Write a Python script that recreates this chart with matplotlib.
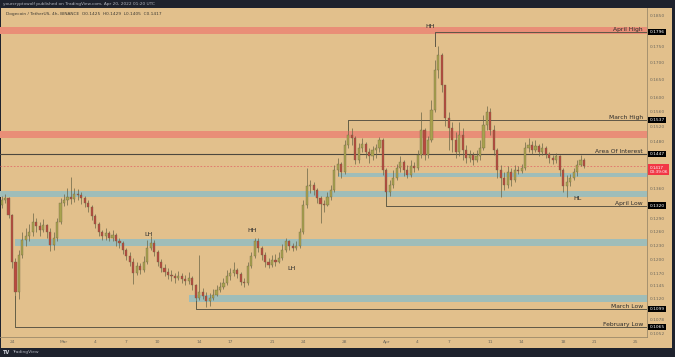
import matplotlib
matplotlib.use("Agg")
import matplotlib.pyplot as plt
import matplotlib.dates as mdates
import matplotlib.ticker as mticker
import matplotlib.transforms as mtransforms
from matplotlib.patches import Rectangle
import pandas as pd

# DOGE/USDT, 8h candles starting Feb 23 2022 (open of each = previous close)
start = "2022-02-23 00:00"
first_open = 0.1322
closes = [
    0.1334, 0.1339, 0.1299, 0.1195, 0.1133, 0.1210, 0.1243, 0.1252, 0.1261, 0.1283,
    0.1274, 0.1265, 0.1276, 0.1261, 0.1232, 0.1247, 0.1283, 0.1327, 0.1334, 0.1341,
    0.1336, 0.1348, 0.1346, 0.1339, 0.1327, 0.1317, 0.1297, 0.1278, 0.1261, 0.1252,
    0.1258, 0.1247, 0.1254, 0.1241, 0.1236, 0.1221, 0.1208, 0.1195, 0.1172, 0.1187,
    0.1178, 0.1195, 0.1225, 0.1236, 0.1217, 0.1195, 0.1183, 0.1174, 0.1168, 0.1166,
    0.1162, 0.1166, 0.1160, 0.1156, 0.1162, 0.1146, 0.1121, 0.1133, 0.1125, 0.1114,
    0.1121, 0.1127, 0.1137, 0.1143, 0.1152, 0.1166, 0.1172, 0.1178, 0.1170, 0.1154,
    0.1152, 0.1187, 0.1208, 0.1239, 0.1225, 0.1210, 0.1195, 0.1189, 0.1200, 0.1195,
    0.1204, 0.1221, 0.1239, 0.1230, 0.1225, 0.1230, 0.1261, 0.1322, 0.1368, 0.1370,
    0.1358, 0.1339, 0.1324, 0.1322, 0.1341, 0.1358, 0.1407, 0.1422, 0.1402, 0.1470,
    0.1497, 0.1489, 0.1432, 0.1463, 0.1473, 0.1452, 0.1442, 0.1457, 0.1463, 0.1483,
    0.1407, 0.1353, 0.1370, 0.1387, 0.1412, 0.1427, 0.1407, 0.1394, 0.1417, 0.1412,
    0.1445, 0.1510, 0.1445, 0.1483, 0.1564, 0.1679, 0.1724, 0.1635, 0.1542, 0.1515,
    0.1483, 0.1452, 0.1497, 0.1457, 0.1437, 0.1445, 0.1432, 0.1442, 0.1463, 0.1523,
    0.1559, 0.1510, 0.1457, 0.1407, 0.1387, 0.1370, 0.1402, 0.1382, 0.1407, 0.1404,
    0.1412, 0.1463, 0.1470, 0.1457, 0.1468, 0.1452, 0.1463, 0.1447, 0.1437, 0.1432,
    0.1442, 0.1407, 0.1368, 0.1377, 0.1387, 0.1402, 0.1419, 0.1432, 0.1417,
]
highs = [
    0.1343, 0.1348, 0.1341, 0.1301, 0.1204, 0.1221, 0.1261, 0.1269, 0.1278, 0.1303,
    0.1292, 0.1283, 0.1290, 0.1278, 0.1269, 0.1261, 0.1292, 0.1339, 0.1348, 0.1363,
    0.1389, 0.1363, 0.1360, 0.1353, 0.1343, 0.1334, 0.1322, 0.1301, 0.1283, 0.1265,
    0.1269, 0.1263, 0.1265, 0.1258, 0.1247, 0.1241, 0.1225, 0.1217, 0.1204, 0.1195,
    0.1193, 0.1208, 0.1243, 0.1252, 0.1243, 0.1221, 0.1202, 0.1191, 0.1183, 0.1178,
    0.1172, 0.1176, 0.1172, 0.1168, 0.1174, 0.1166, 0.1150, 0.1210, 0.1141, 0.1133,
    0.1131, 0.1139, 0.1148, 0.1154, 0.1162, 0.1178, 0.1183, 0.1195, 0.1183, 0.1174,
    0.1162, 0.1195, 0.1217, 0.1247, 0.1247, 0.1230, 0.1217, 0.1204, 0.1210, 0.1212,
    0.1215, 0.1234, 0.1247, 0.1243, 0.1236, 0.1239, 0.1269, 0.1334, 0.1412, 0.1382,
    0.1377, 0.1363, 0.1343, 0.1334, 0.1353, 0.1370, 0.1419, 0.1437, 0.1427, 0.1483,
    0.1537, 0.1515, 0.1494, 0.1475, 0.1489, 0.1478, 0.1463, 0.1468, 0.1473, 0.1491,
    0.1489, 0.1412, 0.1382, 0.1407, 0.1422, 0.1442, 0.1432, 0.1419, 0.1432, 0.1427,
    0.1457, 0.1559, 0.1515, 0.1494, 0.1592, 0.1709, 0.1752, 0.1731, 0.1635, 0.1559,
    0.1531, 0.1504, 0.1531, 0.1515, 0.1470, 0.1457, 0.1452, 0.1457, 0.1483, 0.1551,
    0.1575, 0.1570, 0.1523, 0.1463, 0.1419, 0.1402, 0.1417, 0.1412, 0.1419, 0.1417,
    0.1422, 0.1478, 0.1489, 0.1481, 0.1483, 0.1473, 0.1475, 0.1468, 0.1452, 0.1445,
    0.1450, 0.1445, 0.1412, 0.1394, 0.1397, 0.1412, 0.1432, 0.1445, 0.1437,
]
lows = [
    0.1315, 0.1327, 0.1292, 0.1183, 0.1065, 0.1118, 0.1204, 0.1230, 0.1239, 0.1252,
    0.1261, 0.1252, 0.1261, 0.1247, 0.1219, 0.1221, 0.1241, 0.1278, 0.1320, 0.1322,
    0.1324, 0.1329, 0.1334, 0.1324, 0.1317, 0.1306, 0.1287, 0.1269, 0.1252, 0.1243,
    0.1243, 0.1239, 0.1241, 0.1230, 0.1225, 0.1212, 0.1200, 0.1187, 0.1150, 0.1168,
    0.1170, 0.1174, 0.1191, 0.1221, 0.1208, 0.1187, 0.1174, 0.1166, 0.1160, 0.1156,
    0.1152, 0.1158, 0.1152, 0.1146, 0.1150, 0.1137, 0.1100, 0.1116, 0.1118, 0.1104,
    0.1106, 0.1116, 0.1125, 0.1133, 0.1139, 0.1146, 0.1158, 0.1166, 0.1162, 0.1146,
    0.1143, 0.1148, 0.1183, 0.1204, 0.1217, 0.1200, 0.1185, 0.1183, 0.1185, 0.1187,
    0.1193, 0.1200, 0.1217, 0.1221, 0.1219, 0.1221, 0.1225, 0.1256, 0.1315, 0.1351,
    0.1346, 0.1327, 0.1281, 0.1306, 0.1320, 0.1334, 0.1353, 0.1392, 0.1387, 0.1397,
    0.1463, 0.1470, 0.1422, 0.1424, 0.1452, 0.1437, 0.1424, 0.1432, 0.1437, 0.1452,
    0.1394, 0.1320, 0.1343, 0.1363, 0.1382, 0.1402, 0.1392, 0.1387, 0.1390, 0.1402,
    0.1407, 0.1437, 0.1432, 0.1437, 0.1478, 0.1559, 0.1656, 0.1615, 0.1520, 0.1457,
    0.1452, 0.1437, 0.1442, 0.1432, 0.1424, 0.1427, 0.1419, 0.1427, 0.1432, 0.1457,
    0.1510, 0.1497, 0.1445, 0.1387, 0.1341, 0.1358, 0.1363, 0.1368, 0.1377, 0.1397,
    0.1399, 0.1407, 0.1452, 0.1447, 0.1452, 0.1442, 0.1445, 0.1437, 0.1424, 0.1422,
    0.1424, 0.1392, 0.1353, 0.1341, 0.1368, 0.1382, 0.1392, 0.1417, 0.1412,
]

price_ticks = [0.1850, 0.1750, 0.1700, 0.1650, 0.1600, 0.1560, 0.1520, 0.1480,
               0.1360, 0.1290, 0.1260, 0.1230, 0.1200, 0.1170, 0.1145, 0.1120,
               0.1078, 0.1052]
time_ticks = ["2022-02-24", "2022-03-01", "2022-03-04", "2022-03-07", "2022-03-10",
              "2022-03-14", "2022-03-17", "2022-03-21", "2022-03-24", "2022-03-28",
              "2022-04-01", "2022-04-04", "2022-04-07", "2022-04-11", "2022-04-14",
              "2022-04-18", "2022-04-21", "2022-04-25"]
time_labels = ["24", "Mar", "4", "7", "10", "14", "17", "21", "24", "28",
               "Apr", "4", "7", "11", "14", "18", "21", "25"]

# zones: (low, high, start date or None = whole chart)
red_zones = [(0.1790, 0.1812, None), (0.1489, 0.1508, None)]
blue_zones = [(0.1389, 0.1399, "2022-03-27 08:00"),
              (0.1341, 0.1355, None),
              (0.1230, 0.1245, "2022-02-24 08:00"),
              (0.1112, 0.1127, "2022-03-13 00:00")]

# key levels: (price, name, start date, end of the small vertical tick)
levels = [(0.1796, "April High", "2022-04-05 16:00", 0.1752),
          (0.1537, "March High", "2022-03-28 08:00", 0.1510),
          (0.1320, "April Low", "2022-04-01 00:00", 0.1353),
          (0.1099, "March Low", "2022-03-13 16:00", 0.1114),
          (0.1065, "February Low", "2022-02-24 08:00", 0.1125)]
aoi_price = 0.1447
last_price = 0.1417

swings = [("HH", "2022-04-05 04:30", 0.1815),
          ("HH", "2022-03-19 02:00", 0.1263),
          ("LH", "2022-03-09 04:00", 0.1254),
          ("LH", "2022-03-22 20:00", 0.1180),
          ("HL", "2022-04-19 10:00", 0.1336)]

BG = "#e2c08c"
DARK = "#1e222d"
UP = "#a9a24e"
DOWN = "#b9493e"
WICK = "#6a6547"
RED_Z = "#e98e77"
BLUE_Z = "#9fbdb9"
LINE = "#5e5746"
TXT = "#2b2b2b"

W, H = 675, 357
fig = plt.figure(figsize=(W / 100, H / 100), dpi=100)
fig.patch.set_facecolor(DARK)


def fx(px):
    return px / W


def fy(py):
    return 1 - py / H


fig.add_artist(Rectangle((fx(1), fy(348)), fx(672) - fx(1), fy(8) - fy(348),
                         transform=fig.transFigure, facecolor=BG, edgecolor="none",
                         zorder=-10))

ax = fig.add_axes([0, fy(337), fx(647), fy(8) - fy(337)])
ax.set_facecolor("none")

times = pd.date_range(start, periods=len(closes), freq="8h")
x = mdates.date2num(times.to_pydatetime())
opens = [first_open] + closes[:-1]
base = mdates.date2num(pd.Timestamp("2022-02-24").to_pydatetime())
x_left, x_right = base - 1.154, base + 61.06


def dnum(s):
    return mdates.date2num(pd.Timestamp(s).to_pydatetime())


# zones
for lo, hi, st in red_zones:
    xs = x_left if st is None else dnum(st)
    ax.fill_between([xs, x_right], lo, hi, color=RED_Z, lw=0, zorder=1)
for lo, hi, st in blue_zones:
    xs = x_left if st is None else dnum(st)
    ax.fill_between([xs, x_right], lo, hi, color=BLUE_Z, lw=0, zorder=1)

# levels
lab_x = base + 60.67
for price, name, st, tick_end in levels:
    xs = dnum(st)
    ax.plot([xs, xs, x_right], [tick_end, price, price], color=LINE, lw=0.7, zorder=2)
    ax.text(lab_x, price, name, ha="right", va="bottom", fontsize=4.3,
            color=TXT, zorder=5)
ax.axhline(aoi_price, color="#4d483e", lw=0.8, zorder=2)
ax.text(lab_x, aoi_price, "Area Of Interest", ha="right", va="bottom",
        fontsize=4.3, color=TXT, zorder=5)
ax.axhline(last_price, color="#e0706a", lw=0.6, ls=(0, (2, 2)), zorder=2)

# candles
colors = [UP if c >= o else DOWN for o, c in zip(opens, closes)]
ax.vlines(x, lows, highs, color=WICK, lw=0.5, zorder=3)
bottoms = [min(o, c) for o, c in zip(opens, closes)]
heights = [max(abs(c - o), 0.00005) for o, c in zip(opens, closes)]
ax.bar(x, heights, bottom=bottoms, width=8 / 24 * 0.62, color=colors,
       edgecolor=WICK, linewidth=0.25, zorder=4)

for name, when, price in swings:
    ax.text(dnum(when), price, name, ha="center", va="center", fontsize=4.6,
            color=TXT, zorder=5)

ax.set_yscale("log")
ax.set_ylim(0.1046, 0.1874)
ax.set_xlim(x_left, x_right)

ax.yaxis.tick_right()
ax.yaxis.set_major_locator(mticker.FixedLocator(price_ticks))
ax.yaxis.set_minor_locator(mticker.NullLocator())
ax.yaxis.set_major_formatter(mticker.FuncFormatter(lambda v, p: f"{v:.4f}"))
ax.set_xticks([dnum(t) for t in time_ticks])
ax.set_xticklabels(time_labels)
ax.tick_params(axis="y", length=0, pad=2.3, labelsize=3.2, colors="#6f6a5e")
ax.tick_params(axis="x", length=0, pad=2.2, labelsize=3.2, colors="#6f6a5e")
for side in ["top", "left"]:
    ax.spines[side].set_visible(False)
for side in ["right", "bottom"]:
    ax.spines[side].set_color("#9c8a6a")
    ax.spines[side].set_linewidth(0.6)

# price scale tags
blend = mtransforms.blended_transform_factory(ax.transAxes, ax.transData)
for price, name, st, tick_end in levels:
    ax.text(1.004, price, f"{price:.4f}", transform=blend, ha="left", va="center",
            fontsize=3.2, color="white",
            bbox=dict(boxstyle="square,pad=0.3", fc="black", ec="none"))
ax.text(1.004, aoi_price, f"{aoi_price:.4f}", transform=blend, ha="left",
        va="center", fontsize=3.2, color="white",
        bbox=dict(boxstyle="square,pad=0.3", fc="black", ec="none"))
ax.text(1.004, last_price, f"{last_price:.4f}\n00:39:06", transform=blend,
        ha="left", va="top", fontsize=3.0, color="white", linespacing=1.1,
        bbox=dict(boxstyle="square,pad=0.3", fc="#f23645", ec="none"))

fig.text(fx(3), fy(4), "yourcryptowolf published on TradingView.com, Apr 20, 2022 01:20 UTC",
         fontsize=3.1, color="#b2b5be", va="center")
fig.text(fx(6), fy(14), "Dogecoin / TetherUS, 4h, BINANCE  O0.1425  H0.1429  L0.1405  C0.1417",
         fontsize=3.1, color="#3d3a33", va="center")
fig.text(fx(3), fy(352.5), "TV", fontsize=3.6, color="#d1d4dc", va="center",
         fontweight="bold")
fig.text(fx(12), fy(352.5), "TradingView", fontsize=3.2, color="#b2b5be", va="center")

fig.savefig("out.png", dpi=100, facecolor=DARK)
